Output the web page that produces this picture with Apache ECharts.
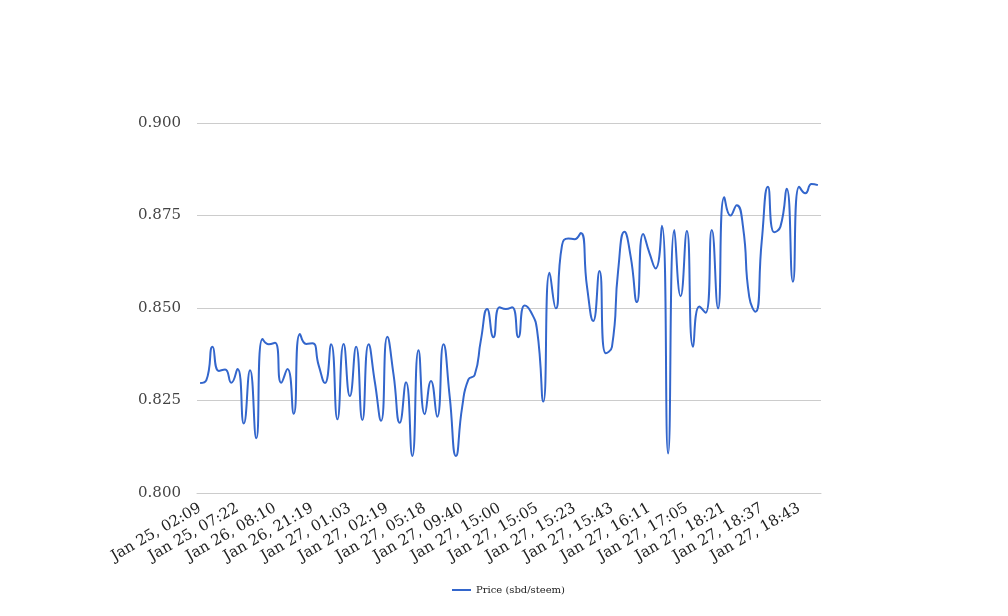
<!DOCTYPE html>
<html>
<head>
<meta charset="utf-8">
<script src="https://cdn.jsdelivr.net/npm/echarts@6/dist/echarts.min.js"></script>
<style>
html,body{margin:0;padding:0;background:#fff;}
#chart{width:1008px;height:616px;}
</style>
</head>
<body>
<div id="chart"></div>
<script>
// Visible tick labels (every 6th category)
const tickLabels = [
  "Jan 25, 02:09","Jan 25, 07:22","Jan 26, 08:10","Jan 26, 21:19","Jan 27, 01:03",
  "Jan 27, 02:19","Jan 27, 05:18","Jan 27, 09:40","Jan 27, 15:00","Jan 27, 15:05",
  "Jan 27, 15:23","Jan 27, 15:43","Jan 27, 16:11","Jan 27, 17:05","Jan 27, 18:21",
  "Jan 27, 18:37","Jan 27, 18:43"
];
const labelStep = 6;

// Price values (100 points)
const prices = [
  0.8297,0.8305,0.8395,0.8330,0.8334,0.8298,0.8335,0.8188,0.8332,0.8148,
  0.8416,0.8402,0.8406,0.8298,0.8335,0.8214,0.8430,0.8403,0.8405,0.8345,
  0.8297,0.8402,0.8199,0.8403,0.8262,0.8395,0.8197,0.8402,0.8300,0.8195,
  0.8422,0.8320,0.8190,0.8299,0.8100,0.8386,0.8213,0.8303,0.8206,0.8402,
  0.8260,0.8100,0.8233,0.8307,0.8319,0.8414,0.8497,0.8421,0.8502,0.8497,
  0.8502,0.8421,0.8507,0.8490,0.8440,0.8247,0.8595,0.8499,0.8670,0.8688,
  0.8686,0.8703,0.8558,0.8465,0.8600,0.8378,0.8395,0.8603,0.8706,0.8639,
  0.8516,0.8700,0.8649,0.8607,0.8722,0.8107,0.8711,0.8532,0.8708,0.8395,
  0.8504,0.8487,0.8711,0.8499,0.8799,0.8750,0.8778,0.8720,0.8530,0.8490,
  0.8680,0.8828,0.8705,0.8720,0.8822,0.8571,0.8828,0.8810,0.8835,0.8832
];

const seriesName = "Price (sbd/steem)";
const yMin = 0.8, yMax = 0.9, yStep = 0.025;

const categories = prices.map((_, i) => (i % labelStep === 0 ? tickLabels[i / labelStep] : ""));

const chart = echarts.init(document.getElementById('chart'), null, {renderer: 'canvas'});
chart.setOption({
  animation: false,
  backgroundColor: '#ffffff',
  textStyle: {fontFamily: 'DejaVu Serif'},
  grid: {left: 197, right: 187, top: 123, bottom: 123},
  legend: {
    bottom: 16,
    left: 447,
    itemWidth: 19,
    itemHeight: 2,
    itemGap: 10,
    icon: 'rect',
    textStyle: {fontFamily: 'DejaVu Serif', fontSize: 10, color: '#222'},
    data: [seriesName]
  },
  xAxis: {
    type: 'category',
    data: categories,
    boundaryGap: true,
    axisLine: {show: true, lineStyle: {color: '#cccccc', width: 1}},
    axisTick: {show: false},
    axisLabel: {
      interval: labelStep - 1,
      rotate: 30,
      margin: 14,
      fontFamily: 'DejaVu Serif',
      fontSize: 15,
      color: '#222222'
    },
    splitLine: {show: false}
  },
  yAxis: {
    type: 'value',
    min: yMin,
    max: yMax,
    interval: yStep,
    axisLine: {show: false},
    axisTick: {show: false},
    axisLabel: {
      margin: 16,
      padding: [3, 0, 0, 0],
      fontFamily: 'DejaVu Serif',
      fontSize: 15,
      color: '#444444',
      formatter: v => v.toFixed(3)
    },
    splitLine: {lineStyle: {color: '#cccccc', width: 1}}
  },
  series: [{
    name: seriesName,
    type: 'line',
    data: prices,
    smooth: 0.55,
    symbol: 'none',
    lineStyle: {color: '#3366cc', width: 2},
    itemStyle: {color: '#3366cc'}
  }]
});
</script>
</body>
</html>
